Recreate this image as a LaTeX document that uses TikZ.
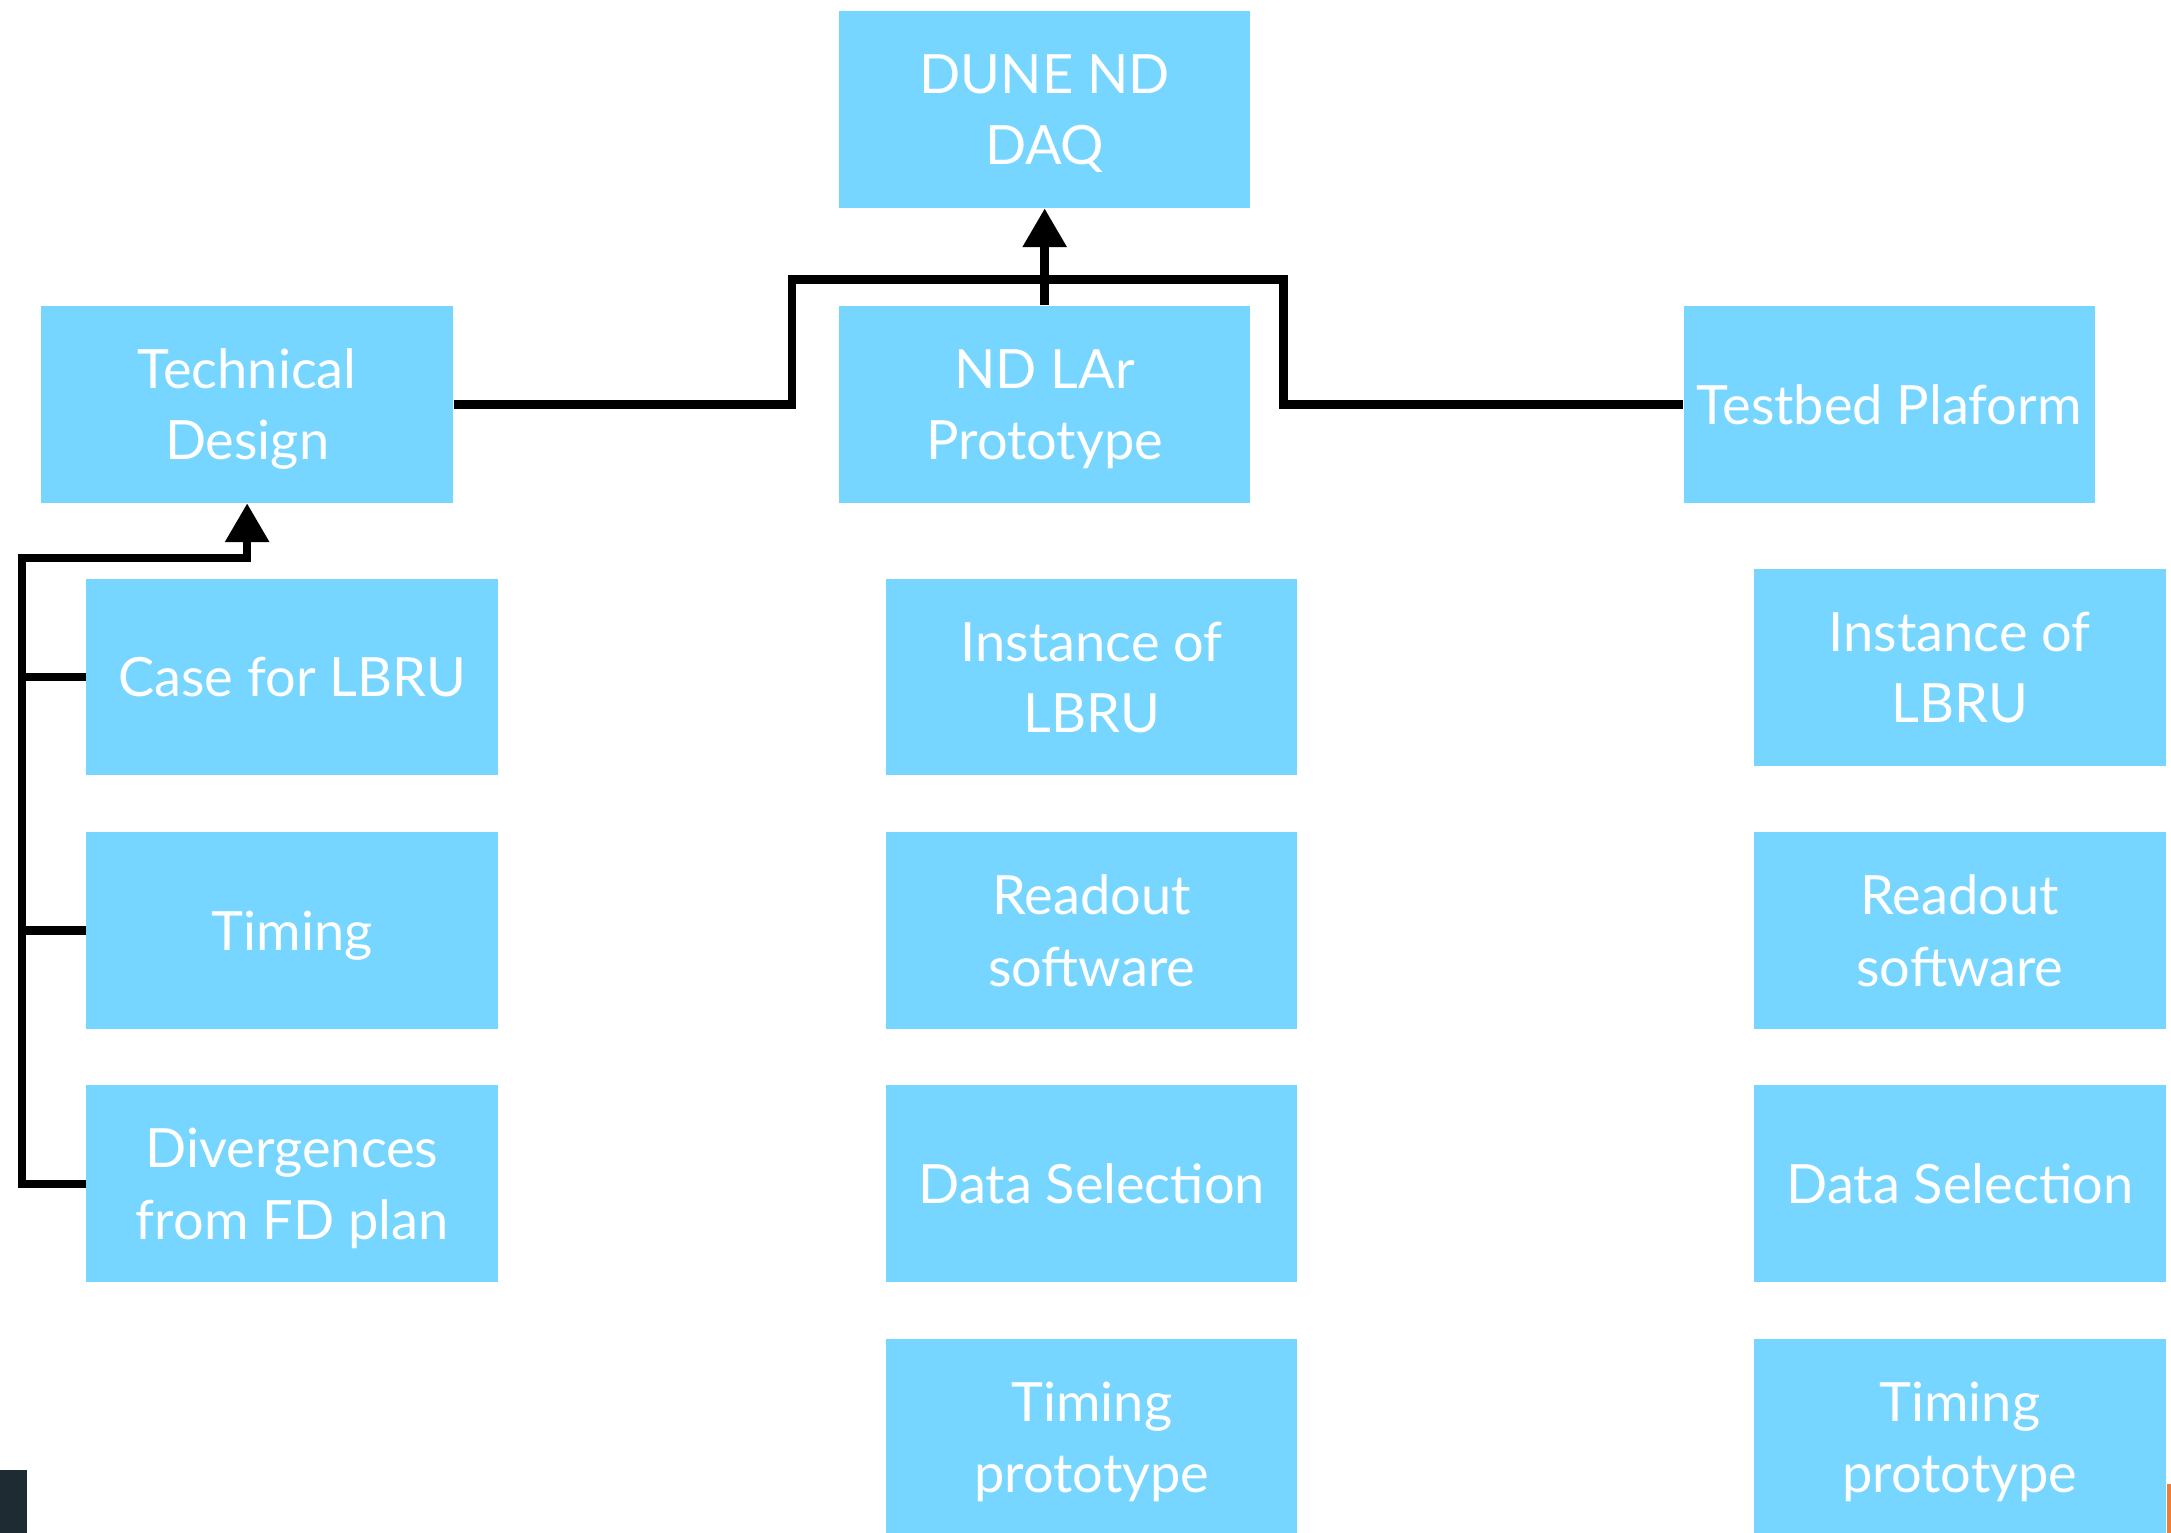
\documentclass[tikz,border=0pt]{standalone}
\usepackage{fontspec}
\usepackage{tikz}
\usetikzlibrary{arrows.meta}
\newfontfamily\boxfont{Lato}
\definecolor{skyblue}{RGB}{118,214,255}
\definecolor{slidedark}{RGB}{30,43,51}
\definecolor{slideorange}{RGB}{238,125,55}

\begin{document}
\begin{tikzpicture}
[
x=0.013846cm, y=-0.013846cm,
block/.style={fill=skyblue,text=white,minimum width=4.112cm,minimum height=1.966cm,
              inner sep=0pt,align=center,text depth=0pt,
              font=\boxfont\fontsize{15.4}{20.3}\selectfont},
link/.style={line width=2.4pt},
uparrow/.style={link,-{Triangle[width=12pt,length=11pt]}},
]
\useasboundingbox (0,0) rectangle (1568,1107);

%Place the nodes
\node[block] (dune) at (754.5,79) {DUNE ND\\DAQ};
\node[block] (tech) at (178.5,292) {Technical\\Design};
\node[block] (ndlar) at (754.5,292) {ND LAr\\Prototype};
\node[block] (testbed) at (1364.5,292) {Testbed Plaform};
%left column
\node[block] (case) at (211,489) {Case for LBRU};
\node[block] (timing) at (211,672) {Timing};
\node[block] (diverg) at (211,855) {Divergences\\from FD plan};
%middle column
\node[block] (ndinst) at (788.5,489) {Instance of\\LBRU};
\node[block] (ndread) at (788.5,672) {Readout\\software};
\node[block] (ndsel) at (788.5,855) {Data Selection};
\node[block] (ndtime) at (788.5,1038) {Timing\\prototype};
%right column
\node[block] (tbinst) at (1415.5,482) {Instance of\\LBRU};
\node[block] (tbread) at (1415.5,672) {Readout\\software};
\node[block] (tbsel) at (1415.5,855) {Data Selection};
\node[block] (tbtime) at (1415.5,1038) {Timing\\prototype};

%slide edges
\fill[slidedark] (0,1062) rectangle (19.5,1107);
\fill[slideorange] (1565,1072) rectangle (1568,1107);

%Draw the connections
\coordinate (busL) at (572,202);
\coordinate (busR) at (927,202);
\coordinate (spine) at (16,403);
\draw[link] (tech.east) -| (busL) -- (busR) |- (testbed.west);
\draw[uparrow] (ndlar.north) -- (dune.south);
\draw[uparrow] (diverg.west) -| (spine) -| (tech.south);
\draw[link] (case.west) -- (case.west -| spine);
\draw[link] (timing.west) -- (timing.west -| spine);
\end{tikzpicture}
\end{document}
